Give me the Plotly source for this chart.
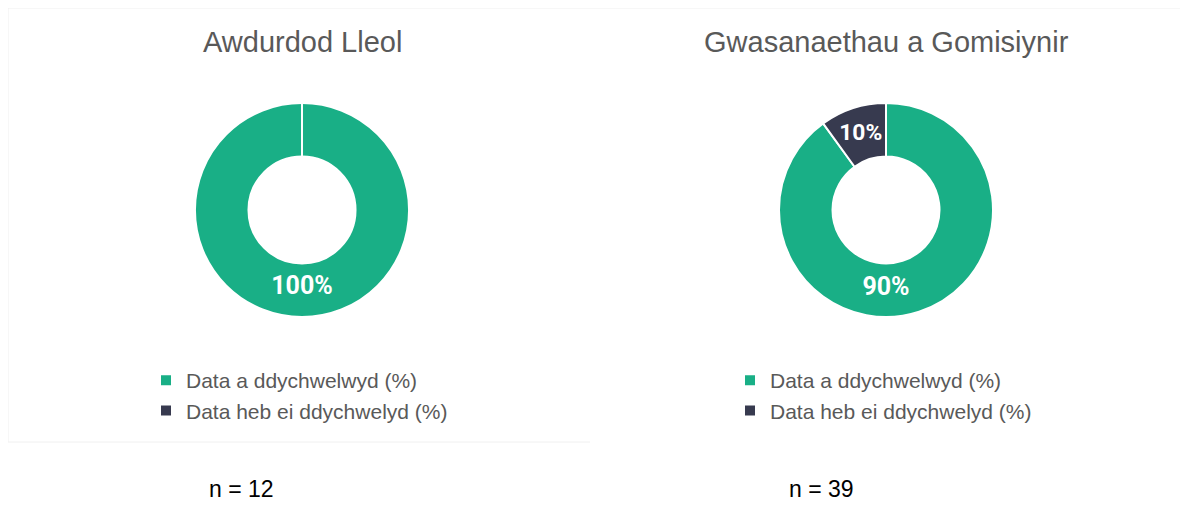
import plotly.graph_objects as go

# page has an 8px body margin; figure drawn inside it
OFF = 8
W, H = 1198 - 2 * OFF, 513 - 2 * OFF

labels = ["Data a ddychwelwyd (%)", "Data heb ei ddychwelyd (%)"]
titles = ["Awdurdod Lleol", "Gwasanaethau a Gomisiynir"]
values_la = [100, 0]
values_cs = [90, 10]
n_labels = ["n = 12", "n = 39"]
colors = ["#19AF86", "#373A4F"]

cx = [302, 886]
cy = 210
R = 107

def px_x(x):
    return (x - OFF) / W

def px_y(y):
    return 1 - (y - OFF) / H

fig = go.Figure()
for i, vals in enumerate([values_la, values_cs]):
    # second pie gets a trailing no-break space so its legend entries are kept separate
    labs = labels if i == 0 else [l + "\u00a0" for l in labels]
    fig.add_trace(go.Pie(
        labels=labs,
        values=vals,
        hole=0.5,
        sort=False,
        direction="clockwise",
        rotation=0,
        marker=dict(colors=colors, line=dict(color="white", width=2)),
        textinfo="percent",
        texttemplate="%{percent:.0%}",
        textposition="inside",
        insidetextorientation="horizontal",
        textfont=dict(family="Roboto", size=25, color="white", weight="bold"),
        domain=dict(x=[px_x(cx[i] - R), px_x(cx[i] + R)],
                    y=[px_y(cy + R), px_y(cy - R)]),
        legend="legend" if i == 0 else "legend2",
        showlegend=True,
        hoverinfo="label+percent",
    ))

legend_common = dict(
    font=dict(family="Liberation Sans", size=21, color="#595959"),
    bgcolor="rgba(0,0,0,0)",
    xanchor="left", yanchor="top",
    orientation="v",
)

annotations = []
for i in range(2):
    annotations.append(dict(
        text=titles[i], x=px_x(cx[i]), y=px_y(42), xref="paper", yref="paper",
        showarrow=False, xanchor="center", yanchor="middle",
        font=dict(family="Liberation Sans", size=29, color="#595959"),
    ))
    annotations.append(dict(
        text=n_labels[i], x=px_x([241, 821][i]), y=px_y(489), xref="paper", yref="paper",
        showarrow=False, xanchor="center", yanchor="middle",
        font=dict(family="Liberation Sans", size=23, color="#000000"),
    ))

border = "#f0f0f0"
shapes = [
    dict(type="line", xref="paper", yref="paper", x0=px_x(8), x1=px_x(1180), y0=px_y(8), y1=px_y(8),
         line=dict(color=border, width=1)),
    dict(type="line", xref="paper", yref="paper", x0=px_x(8), x1=px_x(8), y0=px_y(8), y1=px_y(442),
         line=dict(color=border, width=1)),
    dict(type="line", xref="paper", yref="paper", x0=px_x(8), x1=px_x(590), y0=px_y(442), y1=px_y(442),
         line=dict(color=border, width=1)),
]

fig.update_layout(
    width=W, height=H,
    margin=dict(l=0, r=0, t=0, b=0),
    paper_bgcolor="white",
    plot_bgcolor="white",
    legend=dict(x=px_x(146), y=px_y(360), **legend_common),
    legend2=dict(x=px_x(730), y=px_y(360), **legend_common),
    annotations=annotations,
    shapes=shapes,
)

fig.write_html("out.html")
